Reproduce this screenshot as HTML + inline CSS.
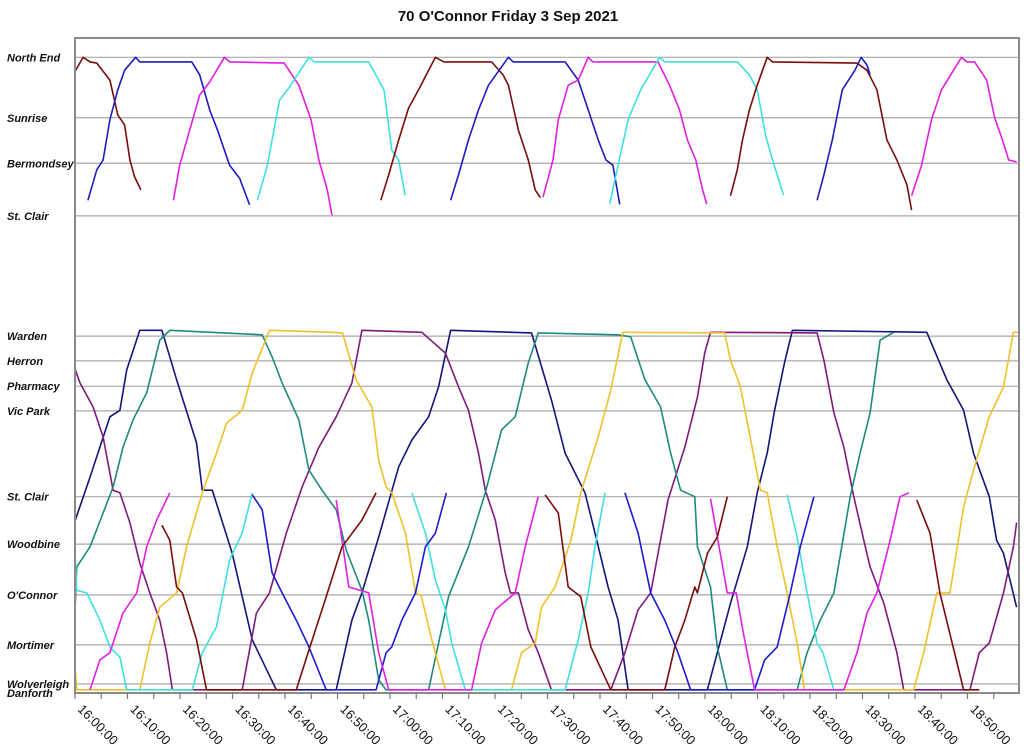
<!DOCTYPE html>
<html><head><meta charset="utf-8"><title>70 O'Connor Friday 3 Sep 2021</title>
<style>
html,body{margin:0;padding:0;background:#fff;}
svg{display:block;font-family:"Liberation Sans",Arial,sans-serif;}
.ylab{font-size:11px;font-weight:bold;font-style:italic;fill:#111;}
.xlab{font-size:13px;fill:#111;}
</style></head>
<body>
<svg id="chart" width="1024" height="755" viewBox="0 0 1024 755" xmlns="http://www.w3.org/2000/svg">
<text x="508" y="21" text-anchor="middle" font-size="15" font-weight="bold" fill="#111">70 O'Connor Friday 3 Sep 2021</text>
<g id="grid"></g>
<g id="ylabels"></g>
<g id="series"></g>
<rect x="75" y="38" width="944" height="655" fill="none" stroke="#8a8a8a" stroke-width="2"/>
<g id="xaxis"></g>
</svg>
<script>
// ---- data ----
const stopNames = ["North End","Sunrise","Bermondsey","St. Clair","Warden","Herron","Pharmacy","Vic Park","St. Clair","Woodbine","O'Connor","Mortimer","Wolverleigh","Danforth"];
const stopDist = [97.8,88.5,81.5,73.4,54.9,51.1,47.2,43.4,30.2,22.9,15.1,7.4,1.4,0];
const tickLabels = ["16:00:00","16:10:00","16:20:00","16:30:00","16:40:00","16:50:00","17:00:00","17:10:00","17:20:00","17:30:00","17:40:00","17:50:00","18:00:00","18:10:00","18:20:00","18:30:00","18:40:00","18:50:00"];
const tickMinutes = [0,10,20,30,40,50,60,70,80,90,100,110,120,130,140,150,160,170];
// trips: [minutes after 16:00:57, distance]
const upperBrown1 = [[-0.9,95.7],[0.6,97.8],[1.9,97.1],[3.2,96.9],[5.7,94.3],[7.2,88.9],[8.5,87.4],[9.5,82],[10.4,79.4],[11.6,77.4]];
const upperBlue1 = [[1.5,75.8],[3.2,80.5],[4.4,82],[5.7,88.2],[7.2,92.8],[8.5,95.8],[10.6,97.8],[11.4,97.1],[21.3,97.1],[22.8,95.1],[24.7,89.7],[26.2,86.6],[28.5,81.2],[30.4,79.2],[32.3,75.1]];
const upperMagenta1 = [[17.8,75.8],[19,81.2],[20.9,86.6],[22.8,92],[24.7,94],[27.5,97.8],[28.5,97.1],[38.9,96.9],[41.7,93.5],[44,88.2],[45.5,82],[47.1,77.4],[48,73.5]];
const upperCyan1 = [[33.8,75.8],[35.7,81.2],[38,91.2],[39.8,93.1],[43.6,97.8],[44.6,97.1],[55,97.1],[57.9,92.8],[59.4,83.5],[60.7,82],[61.9,76.6]];
const upperBrown2 = [[57.3,75.8],[58.8,79.7],[60.7,85.1],[62.6,90],[64.5,92.8],[67.7,97.8],[69.3,97.1],[78.4,97.1],[80.6,95.1],[81.6,93.5],[83.5,86.6],[85.4,82],[86.7,77.4],[87.7,76.2]];
const upperBlue2 = [[70.6,75.8],[72.1,79.7],[74,85.1],[75.9,89.7],[77.8,93.5],[81.6,97.8],[82.5,97.1],[92.4,97.1],[94.9,94.3],[96.8,89.7],[98.7,85.1],[100.2,82],[101.5,81.2],[102.8,75.2]];
const upperMagenta2 = [[88.2,76.3],[90.1,82],[91.1,88.2],[93,93.5],[94.9,94.3],[96.8,97.8],[97.7,97.1],[110.1,97.1],[112.3,93.5],[114.2,89.7],[115.7,85.1],[117.3,82],[118.6,77.4],[119.4,75.2]];
const upperCyan2 = [[100.9,75.2],[102.5,81.2],[104.4,88.2],[106.8,92.8],[110.4,97.8],[111.4,97.1],[125.2,97.1],[127.5,95.1],[129,92.8],[130.6,85.8],[131.9,82],[132.8,79.7],[134,76.6]];
const upperBrown3 = [[123.9,76.5],[125.2,80.5],[126.2,85.1],[127.5,89.7],[129,93.5],[130.9,97.8],[131.9,97.1],[148,96.9],[149.9,95.8],[151.8,92.8],[153.7,85.1],[155.6,82],[157.5,78.2],[158.4,74.3]];
const upperBlue3 = [[140.4,75.8],[141.7,79.7],[143.3,85.1],[145.2,92.8],[147.6,95.8],[148.8,97.8],[149.9,96.6],[150.5,95.1]];
const upperMagenta3 = [[158.4,76.5],[160.3,81.2],[162.2,88.2],[164.1,92.8],[167.9,97.8],[168.9,97.1],[170.4,97.1],[172.7,94.3],[174.2,88.6],[175.7,85.1],[176.9,82],[178.4,81.7]];
const navyBus = [[-0.9,26.6],[1.9,33.2],[5.7,42.5],[7.6,43.5],[8.9,49.7],[11.4,55.8],[15.6,55.8],[18.4,48.2],[22.2,38.5],[23.3,31.2],[25.2,31.2],[29,21.5],[32.8,8.2],[37.4,0.5],[48.8,0.5],[51.8,11.2],[53.7,15.4],[56.9,24],[60.7,34.8],[63.2,38.9],[66.4,42.5],[68.3,47.1],[70.6,55.8],[86,55.4],[89.8,45.1],[92.4,36.9],[96.2,30.8],[98.1,24.6],[100.6,16.3],[102.5,11.2],[104.4,0.5],[119.5,0.5],[121.4,6.2],[123.9,13.8],[127.1,22.5],[129,30.8],[130.9,36.9],[132.3,43.5],[134.2,50.8],[135.7,55.8],[161.3,55.5],[165.1,48.2],[168.3,43.5],[170.2,36.9],[173.2,30.2],[174.6,23.5],[175.9,21.5],[178.4,13.2]];
const purpleBus = [[-0.9,49.7],[0,47.7],[2.5,44],[4.4,39.4],[6.3,31.2],[7.6,30.8],[9.5,26.2],[11.4,20],[13.3,15.4],[15.2,11.2],[16.5,6.2],[17.6,0.5],[30.9,0.5],[33.6,12.3],[36.1,15.4],[39.3,24.6],[42.3,31.7],[45.5,37.8],[48.8,42.5],[51.8,47.7],[53.7,55.8],[65.1,55.5],[69.6,52.3],[72.1,47.1],[74,43.5],[75.9,36.9],[77.2,31.2],[79.1,26.6],[81,18.5],[82,15.4],[83.5,15.4],[85.4,9.7],[87.3,6.2],[89.8,0.5],[101.1,0.5],[103.8,6.2],[106.3,12.8],[108.7,15.4],[112,29.7],[115.2,37.8],[117.6,45.5],[119,52.3],[120.1,55.5],[140.4,55.4],[141.7,51.2],[143.6,43.1],[145.5,37.8],[147.4,30.2],[149.3,23.5],[150.5,19.4],[153.1,13.8],[155.6,6.2],[156.9,0.5],[169.5,0.5],[171.3,6.2],[173.2,7.7],[175.9,15.4],[177.8,22.5],[178.4,26.2]];
const tealBus = [[-0.9,13.8],[-0.6,19.4],[1.9,22.5],[4.4,27.7],[6.3,31.7],[8.2,37.8],[10.1,42],[12.7,46.2],[15.2,54.3],[17.1,55.8],[34.7,55.1],[36.6,51.7],[38.5,47.7],[41.7,42],[43.6,34.3],[46.1,31.2],[48.8,28.2],[50.7,22],[53.7,15.8],[55,11.2],[56.9,2],[58.3,0.5],[66.4,0.5],[68.3,7.7],[70.2,14.8],[74,22.5],[77.2,30.8],[80.3,40.5],[82.9,42.5],[85.4,50.8],[87.3,55.4],[102.5,55.1],[104.9,54.8],[107.6,48.2],[110.6,44],[112.5,36.9],[114.4,31.2],[117.1,30.2],[117.6,22.5],[120.1,16.3],[121.4,7.1],[123.3,0.5],[136.6,0.5],[138.5,6.2],[141,11.2],[143.6,15.4],[146.7,30.2],[148.6,36.9],[150.5,43.1],[152.4,54.3],[155,55.5]];
const goldBus = [[-0.9,3.5],[-0.6,0.5],[11.4,0.5],[13.3,7.7],[15.2,13.2],[18.4,15.4],[20.3,22.5],[23.3,30.8],[26,36.9],[27.9,41.5],[30.9,43.5],[32.8,49.2],[36.1,55.8],[48,55.5],[50,55.4],[52.6,48.2],[55.6,44],[56.9,35.8],[58.3,31.7],[59.4,30.8],[62,24.6],[63.9,15.4],[65,15],[67,8.2],[69.6,0.5],[82.2,0.5],[84.1,6.2],[86.7,7.7],[87.9,13.2],[90.5,16.3],[93.5,23.5],[95.4,30.8],[98.7,39.4],[101.1,46.6],[103.4,55.5],[122.8,55.4],[123.9,51.2],[125.8,47.1],[128.5,35.8],[129.6,31.2],[130.9,30.8],[132.8,22.5],[134.7,15.4],[136.6,7.7],[138,0.5],[158.8,0.5],[160.7,6.2],[163.2,15.4],[165.7,15.4],[168.3,28.6],[170.2,34.3],[173.2,42.5],[175.9,47.1],[177.8,55.5],[179,55.5]];
const cyanBus1 = [[-0.9,20.5],[-0.6,15.8],[1.3,15.4],[3.8,11.2],[5.7,7.1],[7.6,5.5],[8.9,0.5],[21.4,0.5],[23.3,6.2],[26,10.2],[28.5,20.5],[30.9,24.6],[32.8,30.8]];
const cyanBus2 = [[63.2,30.8],[65.8,24.6],[67.7,17.4],[69.6,12.8],[70.8,7.7],[73.4,0.5],[92.4,0.5],[94.9,8.2],[96.8,15.4],[98.1,22.5],[100,30.8]];
const cyanBus3 = [[134.7,30.5],[136.6,24],[138.5,15.4],[140.4,7.7],[141.5,6.2],[143.6,0.5],[145.5,0.5]];
const blueBus1 = [[32.8,30.5],[34.7,28.2],[36.6,18.5],[38.5,15.4],[41.2,11.2],[43.6,7.1],[46.9,0.5],[56.4,0.5],[58.3,6.2],[59.4,7.1],[61.3,11.2],[63.9,15.4],[65.8,22.5],[67.7,24.6],[69.8,30.8]];
const blueBus2 = [[103.8,30.8],[106.3,24.6],[108.7,15.4],[111.4,11.2],[113.9,6.2],[116.3,0.5],[128.5,0.5],[130.4,5.1],[132.8,7.1],[135.3,15.4],[137.2,22.5],[139.8,30.2]];
const magentaBus1 = [[1.9,0.5],[3.8,5.1],[5.7,6.2],[8.2,12.3],[10.8,15.4],[12.7,22.5],[14.6,26.6],[17.1,30.8]];
const magentaBus2 = [[48.8,29.7],[51.2,16.3],[55,15.4],[56.9,6.2],[58.8,0.5],[74.6,0.5],[76.5,7.7],[79.1,12.8],[82.9,15.4],[84.8,22.5],[87.3,30.2]];
const magentaBus3 = [[120.1,29.9],[123.3,15.4],[125,15.4],[126.6,8.2],[128.5,0.5],[145.5,0.5],[148,6.2],[149.9,12.3],[151.8,15.4],[154.3,23.5],[156.2,30.2],[157.9,30.8]];
const brownBus1 = [[15.6,25.8],[17.1,23.5],[18.4,16.3],[19.5,15.4],[22.2,8.2],[24.1,0.5],[41.2,0.5],[43.6,6.6],[46.9,14.8],[49.9,22.5],[53.7,26.6],[56.4,30.8]];
const brownBus2 = [[88.6,30.5],[91.1,27.7],[93,16.3],[95.4,14.8],[97.3,7.1],[101.1,0.5],[111.4,0.5],[113.3,7.1],[115.2,11.2],[117.1,16.3],[117.6,15.4],[119.5,21.5],[121.4,24],[123.3,30.2]];
const brownBus3 = [[159.4,29.7],[161.9,24.6],[163.8,15.4],[168.3,0.5],[171.3,0.5]];

const traces = [
 ["upper-brown-1",upperBrown1,"#7a0c0c"],["upper-blue-1",upperBlue1,"#1c1cc0"],["upper-magenta-1",upperMagenta1,"#e020e0"],["upper-cyan-1",upperCyan1,"#40e0e0"],
 ["upper-brown-2",upperBrown2,"#7a0c0c"],["upper-blue-2",upperBlue2,"#1c1cc0"],["upper-magenta-2",upperMagenta2,"#e020e0"],["upper-cyan-2",upperCyan2,"#40e0e0"],
 ["upper-brown-3",upperBrown3,"#7a0c0c"],["upper-blue-3",upperBlue3,"#1c1cc0"],["upper-magenta-3",upperMagenta3,"#e020e0"],
 ["navy-bus",navyBus,"#14147a"],["purple-bus",purpleBus,"#7e1a7e"],["teal-bus",tealBus,"#1e8a7e"],["gold-bus",goldBus,"#f2c02a"],
 ["cyan-bus-1",cyanBus1,"#40e0e0"],["cyan-bus-2",cyanBus2,"#40e0e0"],["cyan-bus-3",cyanBus3,"#40e0e0"],
 ["blue-bus-1",blueBus1,"#1c1cd0"],["blue-bus-2",blueBus2,"#1c1cd0"],
 ["magenta-bus-1",magentaBus1,"#e020e0"],["magenta-bus-2",magentaBus2,"#e020e0"],["magenta-bus-3",magentaBus3,"#e020e0"],
 ["brown-bus-1",brownBus1,"#7a0c0c"],["brown-bus-2",brownBus2,"#7a0c0c"],["brown-bus-3",brownBus3,"#7a0c0c"]
];

// ---- scales ----
const X0=75, PXMIN=5.25, DATA_OFFSET=0.95, Y0=693, PXDIST=6.5;
function xTick(m){return X0+m*PXMIN;}
function xData(t){return X0+(t+DATA_OFFSET)*PXMIN;}
function yScale(d){return Y0-d*PXDIST;}

const NS="http://www.w3.org/2000/svg";
function mk(tag,attrs){const e=document.createElementNS(NS,tag);for(const k in attrs)e.setAttribute(k,attrs[k]);return e;}

const grid=document.getElementById('grid'), ylabels=document.getElementById('ylabels');
stopNames.forEach((n,i)=>{
  const y=yScale(stopDist[i]);
  const l=mk('line',{x1:X0,x2:1019,y1:y,y2:y,stroke:'#a8a8a8','stroke-width':1.2});
  
  
  grid.appendChild(l);
  const t=mk('text',{x:7,y:y+4,class:'ylab'});
  t.textContent=n;
  
  
  ylabels.appendChild(t);
});

const series=document.getElementById('series');
const clip=mk('clipPath',{id:'pc'});clip.appendChild(mk('rect',{x:76,y:39,width:942,height:656}));
document.getElementById('chart').appendChild(clip);
series.setAttribute('clip-path','url(#pc)');
traces.forEach(([name,pts,col])=>{
  const p=mk('polyline',{points:pts.map(([t,d])=>xData(t).toFixed(1)+','+yScale(d).toFixed(1)).join(' '),fill:'none',stroke:col,'stroke-width':1.6,'stroke-linejoin':'round'});
  
  
  series.appendChild(p);
});

const xaxis=document.getElementById('xaxis');
for(let m=0;m<=180;m+=5){
  const x=xTick(m); if(x>1019)break;
  const tk=mk('line',{x1:x,x2:x,y1:693,y2:699,stroke:'#777','stroke-width':1.2});
  
  
  xaxis.appendChild(tk);
}
tickLabels.forEach((lab,i)=>{
  const x=xTick(tickMinutes[i]);
  const t=mk('text',{x:0,y:0,class:'xlab',transform:`translate(${x+2},${710}) rotate(45)`});
  t.textContent=lab;
  
  
  xaxis.appendChild(t);
});
</script>
</body></html>
